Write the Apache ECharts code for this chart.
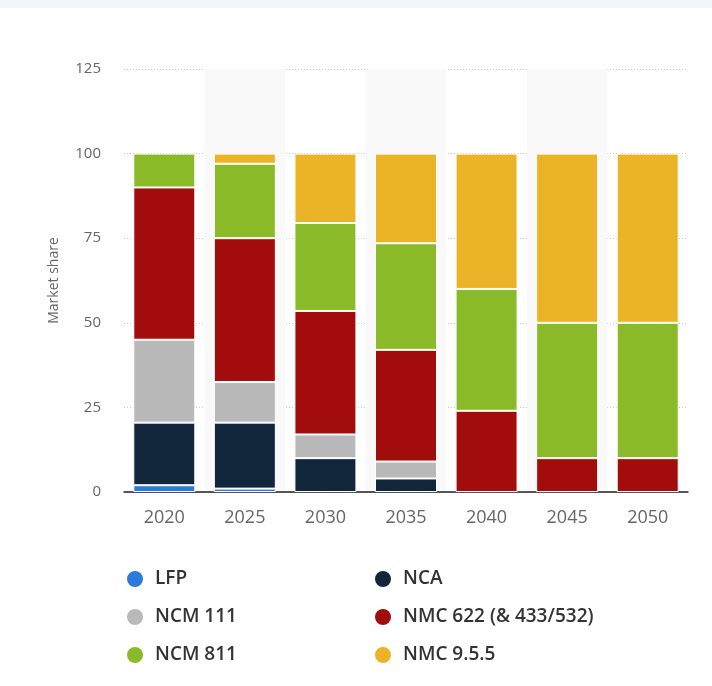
<!DOCTYPE html>
<html>
<head>
<meta charset="utf-8">
<script src="https://cdn.jsdelivr.net/npm/echarts@6/dist/echarts.min.js"></script>
<style>
html,body{margin:0;padding:0;background:#fff;}
#chart{width:712px;height:686px;}
</style>
</head>
<body>
<div id="chart"></div>
<script>
var years = ['2020','2025','2030','2035','2040','2045','2050'];
var yTicks = [0,25,50,75,100,125];
var LFP    = [2, 1, 0, 0, 0, 0, 0];
var NCA    = [18.5, 19.5, 10, 4, 0, 0, 0];
var NCM111 = [24.5, 12, 7, 5, 0, 0, 0];
var NMC622 = [45, 42.5, 36.5, 33, 24, 10, 10];
var NCM811 = [10, 22, 26, 31.5, 36, 40, 40];
var NMC955 = [0, 3, 20.5, 26.5, 40, 50, 50];

var seriesNames = ['LFP','NCA','NCM 111','NMC 622 (& 433/532)','NCM 811','NMC 9.5.5'];
var seriesData = [LFP, NCA, NCM111, NMC622, NCM811, NMC955];
var colors = ['#2b7bdc','#12263b','#b9b9b9','#a30c0c','#8aba27','#ebb426'];

var font = 'Open Sans';
var chart = echarts.init(document.getElementById('chart'), null, {renderer:'canvas'});
var series = seriesNames.map(function(n,i){
  return {
    name: n, type: 'bar', stack: 'total', barWidth: 62,
    data: seriesData[i].map(function(v){ return v === 0 ? null : v; }),
    itemStyle: {color: colors[i], borderColor: '#fff', borderWidth: 1},
    emphasis: {disabled: true}
  };
});
var legendText = {color:'#333', fontSize:19, fontWeight:600, fontFamily:font, lineHeight:18, padding:[0,0,0,6]};
chart.setOption({
  animation: false,
  color: colors,
  graphic: [{type:'rect', shape:{x:0,y:0,width:712,height:8}, style:{fill:'#f4f5f7'}, silent:true}],
  grid: {left:124, right:24, top:69, bottom:194},
  xAxis: {
    type:'category', data: years,
    axisLine:{lineStyle:{color:'#222', width:1.5}},
    axisTick:{show:false},
    axisLabel:{color:'#666', fontSize:18, fontFamily:font, margin:17},
    splitArea:{show:true, areaStyle:{color:['rgba(255,255,255,0)','#f9f9fa']}}
  },
  yAxis: {
    type:'value', min:0, max:125, interval:25,
    name:'Market share', nameLocation:'middle', nameGap:63, nameRotate:90,
    nameTextStyle:{color:'#666', fontSize:14, fontFamily:font},
    axisLine:{show:false}, axisTick:{show:false},
    axisLabel:{color:'#666', fontSize:15, fontFamily:font, margin:23,
      formatter:function(v){ return yTicks.indexOf(v) >= 0 ? String(v) : ''; }},
    splitLine:{lineStyle:{color:'#c8c8c8', type:[1,2], width:1}}
  },
  legend: [
    {data:['LFP','NCM 111','NCM 811'], orient:'vertical', left:125, top:569, padding:0, itemWidth:18, itemHeight:18,
     itemGap:18, icon:'circle', textStyle:legendText, selectedMode:false},
    {data:['NCA','NMC 622 (& 433/532)','NMC 9.5.5'], orient:'vertical', left:373, top:569, padding:0, itemWidth:18, itemHeight:18,
     itemGap:18, icon:'circle', textStyle:legendText, selectedMode:false}
  ],
  series: series
});
</script>
</body>
</html>
